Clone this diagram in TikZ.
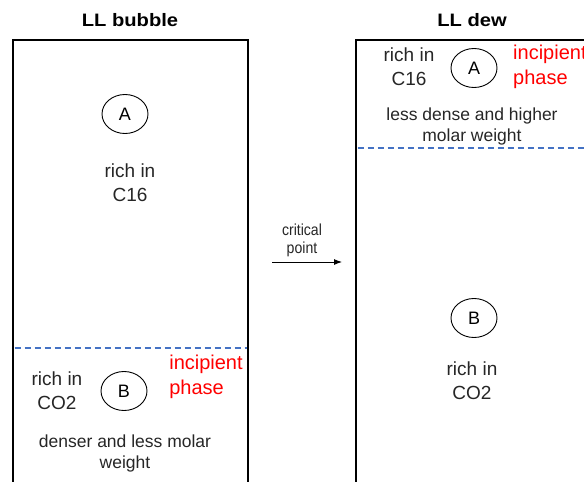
\documentclass[tikz,border=0pt]{standalone}
\usepackage{fontspec}
\setmainfont{Liberation Sans}
\usetikzlibrary{shapes.geometric,arrows.meta}
\begin{document}
\begin{tikzpicture}[x=1pt,y=-1pt,
  wall/.style={line width=2.6pt},
  phase/.style={draw, ellipse, line width=0.9pt, minimum width=46pt, minimum height=39pt, inner sep=0pt, font=\fontsize{18}{20}\selectfont},
  big/.style={align=center, inner sep=0pt, font=\fontsize{19}{24}\selectfont, text=black!85},
  small/.style={align=center, inner sep=0pt, font=\fontsize{17.5}{21}\selectfont, text=black!85},
  red/.style={align=left, inner sep=0pt, font=\fontsize{20}{24.5}\selectfont, text={rgb,255:red,255;green,0;blue,0}},
  title/.style={inner sep=0pt, font=\bfseries\fontsize{18}{20}\selectfont},
  sep/.style={dashed, dash pattern=on 6pt off 4pt, line width=1.2pt, draw={rgb,255:red,68;green,114;blue,196}}]
\useasboundingbox (0,0) rectangle (584,482);
% titles
\node[title, xscale=1.12, transform shape] (t1) at (130,20) {LL bubble};
\node[title, xscale=1.12, transform shape] (t2) at (472,20) {LL dew};
% left container
\coordinate (l1) at (13,484);
\coordinate (l2) at (13,40);
\coordinate (l3) at (248,40);
\coordinate (l4) at (248,484);
\draw[wall] (l1) -- (l2) -- (l3) -- (l4);
\coordinate (ld1) at (14.5,348);
\coordinate (ld2) at (246.5,348);
\draw[sep] (ld1) -- (ld2);
\node[phase] (lA) at (125,114) {A};
\node[big] (lrich) at (130,183) {rich in\\C16};
\node[red] (linc) at (206,377) {incipient\\phase};
\node[big] (lrich2) at (57,391) {rich in\\CO2};
\node[phase] (lB) at (124,391) {B};
\node[small] (lprop) at (125,453) {denser and less molar\\weight};
% arrow
\node[inner sep=0pt, align=center, font=\fontsize{16}{18}\selectfont, xscale=0.88, transform shape, text=black!85] (crit) at (302,240) {critical\\point};
\coordinate (a1) at (272,262);
\coordinate (a2) at (342,262);
\draw[line width=0.9pt, -{Latex[length=8pt,width=6pt]}] (a1) -- (a2);
% right container
\coordinate (r1) at (356,484);
\coordinate (r2) at (356,40);
\coordinate (r3) at (590,40);
\draw[wall] (r1) -- (r2) -- (r3);
\coordinate (rd1) at (357.5,148);
\coordinate (rd2) at (590,148);
\draw[sep] (rd1) -- (rd2);
\node[big] (rrich) at (409,67) {rich in\\C16};
\node[phase] (rA) at (474,68) {A};
\node[red, anchor=west] (rinc) at (513,67) {incipient\\phase};
\node[small] (rprop) at (472,126) {less dense and higher\\molar weight};
\node[phase] (rB) at (474,318) {B};
\node[big] (rrich2) at (472,381) {rich in\\CO2};
\end{tikzpicture}
\end{document}
